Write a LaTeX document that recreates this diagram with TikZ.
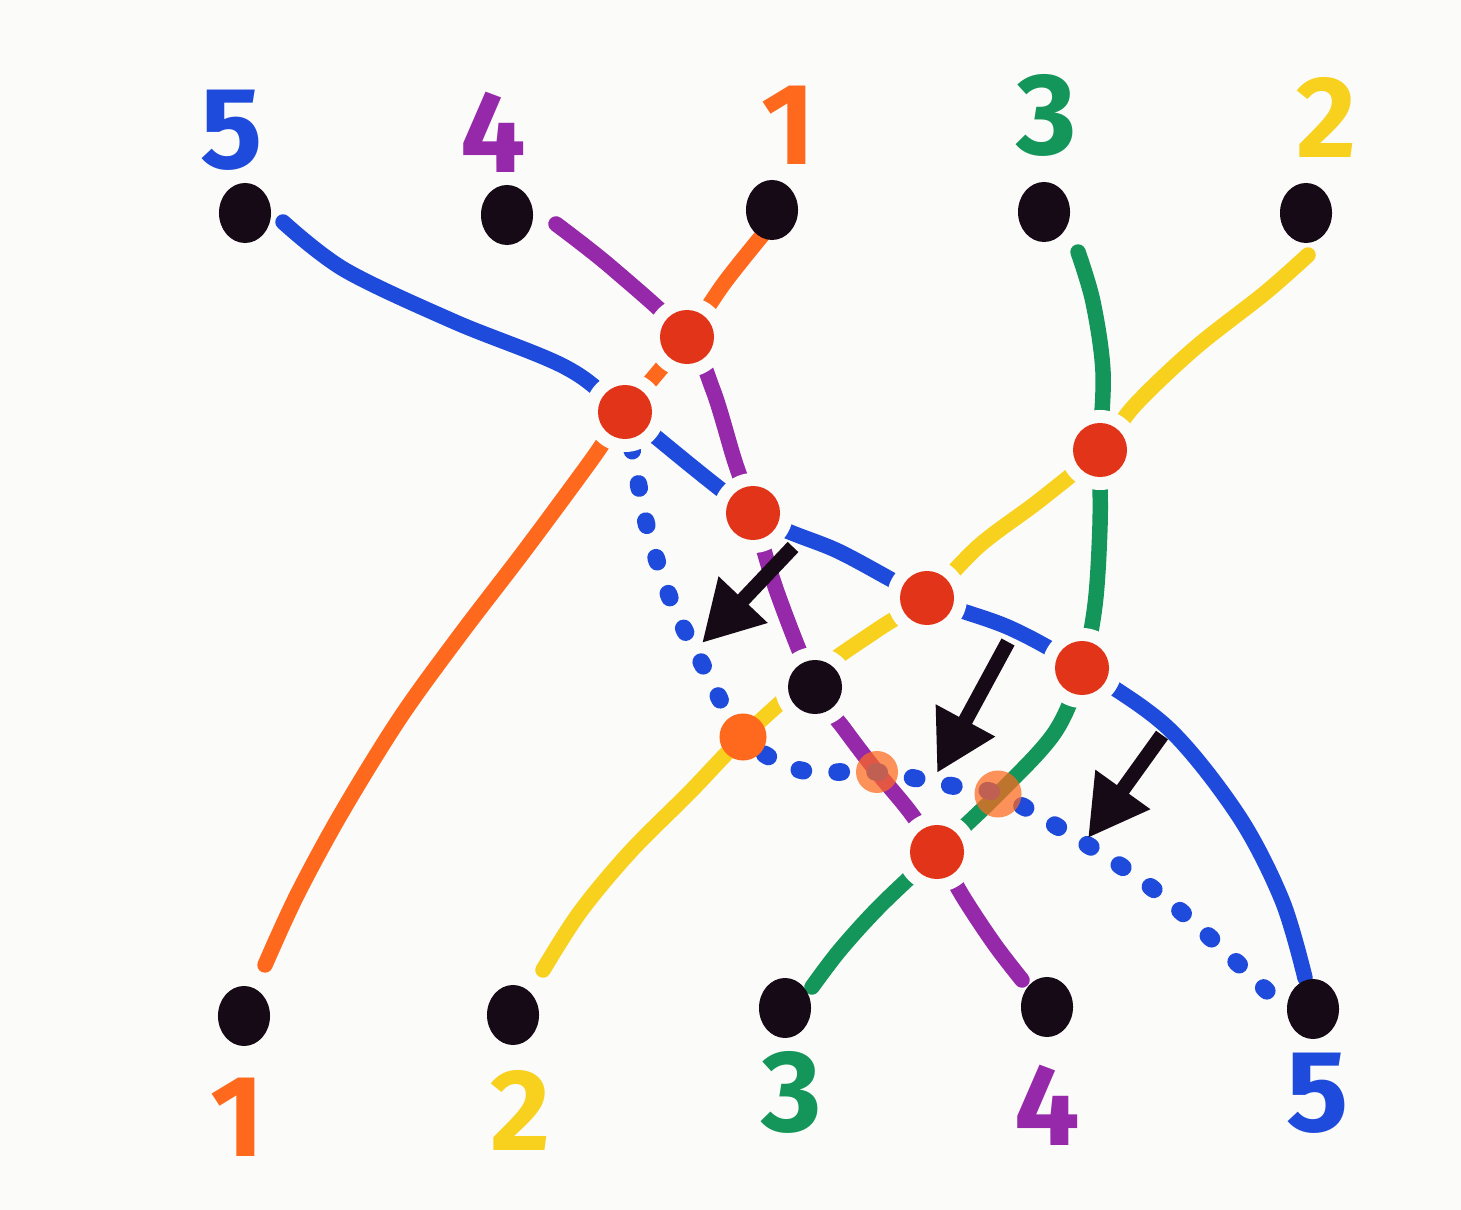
\documentclass[tikz,border=0pt]{standalone}
\usepackage{fontspec}
\setmainfont{Fira Sans}
\usetikzlibrary{arrows.meta,shapes.geometric}
\definecolor{bg}{RGB}{251,251,249}
\definecolor{mblue}{RGB}{30,75,220}
\definecolor{mpurple}{RGB}{150,40,170}
\definecolor{morange}{RGB}{255,105,30}
\definecolor{mgreen}{RGB}{20,150,90}
\definecolor{myellow}{RGB}{248,208,30}
\definecolor{mred}{RGB}{226,52,24}
\definecolor{mblack}{RGB}{22,10,22}
\begin{document}
\begin{tikzpicture}[x=0.01cm,y=-0.01cm,
  stroke/.style={line width=4.4pt,line cap=round,line join=round},
  dotline/.style={line width=5pt,line cap=round,dash pattern=on 1.2pt off 9.6pt,dash phase=-10pt},
  halo/.style={circle,fill=bg,minimum size=0.8cm,inner sep=0pt},
  xdot/.style={circle,fill=mred,minimum size=0.54cm,inner sep=0pt},
  odot/.style={circle,fill=morange,minimum size=0.47cm,inner sep=0pt},
  tdot/.style={ellipse,fill=mblack,minimum width=0.52cm,minimum height=0.6cm,inner sep=0pt},
  lbl/.style={font=\fontsize{33}{33}\selectfont\bfseries},
  arr/.style={line width=4.2pt,draw=mblack,-{Triangle[length=17pt,width=18pt]}}]
\fill[bg] (0,0) rectangle (1461,1210);
% crossing points
\coordinate (A) at (687,337);
\coordinate (B) at (625,412);
\coordinate (C) at (753,513);
\coordinate (D) at (927,598);
\coordinate (E) at (1100,450);
\coordinate (F) at (1082,668);
\coordinate (G) at (815,687);
\coordinate (H) at (743,737);
\coordinate (I) at (877,772);
\coordinate (J) at (998,794);
\coordinate (K) at (937,852);
% orange 1
\draw[stroke,morange] plot[smooth,tension=0.55] coordinates {(765,232) (725,282) (A) (B) (590,462) (525,550) (460,635) (400,718) (342,812) (297,895) (265,965)};
% yellow 2
\draw[stroke,myellow] plot[smooth,tension=0.55] coordinates {(1308,255) (1265,293) (1195,348) (1135,405) (E) (1040,500) (980,545) (D) (880,628) (813,675) (H) (690,792) (630,852) (580,912) (543,970)};
% green 3
\draw[stroke,mgreen] plot[smooth,tension=0.55] coordinates {(1078,252) (1093,302) (1103,372) (E) (1100,525) (1095,605) (F) (1055,732) (J) (K) (880,906) (840,950) (812,987)};
% purple 4
\draw[stroke,mpurple] plot[smooth,tension=0.55] coordinates {(556,224) (612,268) (A) (713,390) (735,462) (C) (777,592) (G) (845,730) (I) (910,812) (K) (965,900) (995,945) (1022,980)};
% blue 5 solid
\draw[stroke,mblue] plot[smooth,tension=0.55] coordinates {(283,222) (345,270) (455,322) (565,367) (B) (C) (840,552) (D) (1010,628) (F) (1168,728) (1238,815) (1282,900) (1305,978)};
% blue 5 dotted
\draw[dotline,mblue] plot[smooth,tension=0.55] coordinates {(B) (635,465) (648,530) (672,603) (707,673) (H) (800,770) (I) (953,786) (J) (1063,830) (1137,877) (1193,922) (1268,992)};
% halos and crossing dots
\foreach \p in {A,B,C,D,E,F,G,K} \node[halo] at (\p) {};
\foreach \p/\q in {A/nA,B/nB,C/nC,D/nD,E/nE,F/nF,K/nK} \node[xdot] (\q) at (\p) {};
\node[circle,fill=mblack,minimum size=0.54cm,inner sep=0pt] (nG) at (G) {};
\node[odot] (nH) at (H) {};
\node[odot,minimum size=0.42cm,fill opacity=0.72] (nI) at (I) {};
\node[odot,fill opacity=0.72] (nJ) at (J) {};
% arrows
\coordinate (a1s) at (793,547); \coordinate (a1e) at (702,643);
\coordinate (a2s) at (1008,642); \coordinate (a2e) at (937,773);
\coordinate (a3s) at (1162,735); \coordinate (a3e) at (1088,838);
\draw[arr] (a1s) -- (a1e);
\draw[arr] (a2s) -- (a2e);
\draw[arr] (a3s) -- (a3e);
% terminal dots
\node[tdot] (t5) at (245,213) {};
\node[tdot] (t4) at (507,215) {};
\node[tdot] (t1) at (772,210) {};
\node[tdot] (t3) at (1044,212) {};
\node[tdot] (t2) at (1306,213) {};
\node[tdot] (b1) at (244,1016) {};
\node[tdot] (b2) at (513,1015) {};
\node[tdot] (b3) at (785,1008) {};
\node[tdot] (b4) at (1047,1007) {};
\node[tdot] (b5) at (1313,1009) {};
% labels
\node[lbl,text=mblue] (l5t) at (232,130) {5};
\node[lbl,text=mpurple] (l4t) at (493,132) {4};
\node[lbl,text=morange] (l1t) at (788,125) {1};
\node[lbl,text=mgreen] (l3t) at (1047,115) {3};
\node[lbl,text=myellow] (l2t) at (1326,117) {2};
\node[lbl,text=morange] (l1b) at (237,1117) {1};
\node[lbl,text=myellow] (l2b) at (520,1110) {2};
\node[lbl,text=mgreen] (l3b) at (792,1092) {3};
\node[lbl,text=mpurple] (l4b) at (1047,1105) {4};
\node[lbl,text=mblue] (l5b) at (1318,1093) {5};
\end{tikzpicture}
\end{document}
